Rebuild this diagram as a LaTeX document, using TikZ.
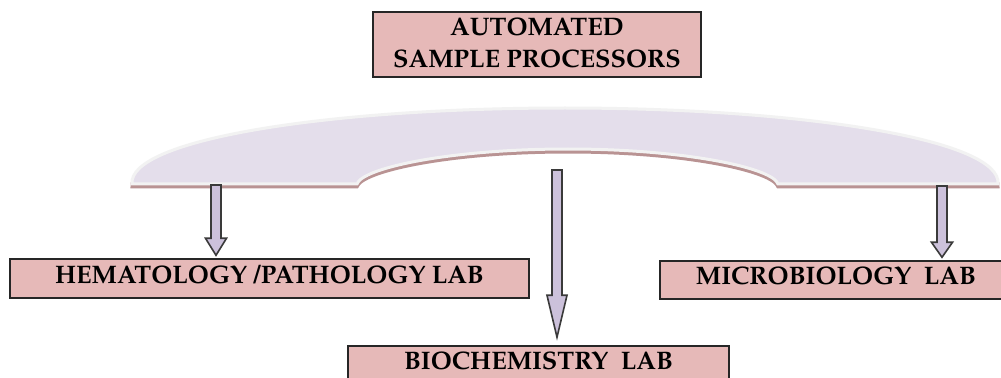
\documentclass[tikz,border=0pt]{standalone}
\usepackage[T1]{fontenc}
\usepackage{mathpazo}
\usetikzlibrary{calc}
\definecolor{boxfill}{HTML}{E6B9B8}
\definecolor{boxline}{HTML}{262626}
\definecolor{bandfill}{HTML}{E4DEEB}
\definecolor{bandedge}{HTML}{F2F2F2}
\definecolor{bandshadow}{HTML}{B99393}
\definecolor{arrfill}{HTML}{CCC1DB}
\definecolor{arrline}{HTML}{3A3A3A}
\newcommand{\myblockarrow}[4]{% start, end, head length, head half width
  \path[blockarr] let \p1=(#1), \p2=(#2) in
    (\x1-3.75pt,\y1) -- (\x1+3.75pt,\y1) -- (\x1+3.75pt,\y2+#3)
    -- (\x1+#4,\y2+#3) -- (\x1,\y2) -- (\x1-#4,\y2+#3)
    -- (\x1-3.75pt,\y2+#3) -- cycle;}
\begin{document}
\begin{tikzpicture}[x=0.75pt,y=-0.75pt,
  labbox/.style={draw=boxline, line width=1.1pt, fill=boxfill, inner sep=0pt,
    font=\fontsize{19}{24}\selectfont\bfseries, text height=13pt, text depth=5.7pt},
  topbox/.style={draw=boxline, line width=1.1pt, fill=boxfill, inner sep=0pt,
    font=\fontsize{19}{24}\selectfont\bfseries, align=center, text depth=3pt},
  blockarr/.style={draw=arrline, fill=arrfill, line width=1.2pt, line join=miter},
  bandshape/.style={insert path={(132,184) .. controls (128,140) and (325,108) .. (565,108)
     .. controls (805,108) and (1002,140) .. (998,184) -- (778,184)
     .. controls (773,168) and (685,149) .. (568,149)
     .. controls (450,149) and (362,168) .. (357,184) -- cycle}}]
\clip (0,0) rectangle (1001,378);
\fill[white] (0,0) rectangle (1001,378);
% top box
\node[topbox, minimum width=246pt, minimum height=48.75pt] (top) at (537,44.5)
  {AUTOMATED\\SAMPLE PROCESSORS};
% band
\path[fill=bandshadow, draw=bandshadow, line width=2.25pt, shift={(0,3)}, bandshape];
\path[fill=bandfill, draw=bandedge, line width=2.25pt, bandshape];
% lab boxes
\node[labbox, minimum width=389.25pt, minimum height=29.25pt] (hema) at (269.5,278.5)
  {HEMATOLOGY /PATHOLOGY LAB};
\node[labbox, minimum width=264pt, minimum height=28.5pt] (micro) at (836,280)
  {MICROBIOLOGY\ \ LAB};
\node[labbox, minimum width=285.75pt, minimum height=28.5pt] (bio) at (538.5,365)
  {BIOCHEMISTRY\ \ LAB};
% arrows
\coordinate (s1) at (216,185);
\coordinate (s2) at (557,170);
\coordinate (s3) at (942,186);
\coordinate (e1) at ($(s1 |- hema.north)+(0,-3)$);
\coordinate (e2) at ($(s2 |- bio.north)+(0,-8)$);
\coordinate (e3) at ($(s3 |- micro.north)+(0,-3)$);
\myblockarrow{s1}{e1}{12.75pt}{7.9pt}
\myblockarrow{s2}{e2}{31.5pt}{7.5pt}
\myblockarrow{s3}{e3}{11.25pt}{7.9pt}
\end{tikzpicture}
\end{document}
